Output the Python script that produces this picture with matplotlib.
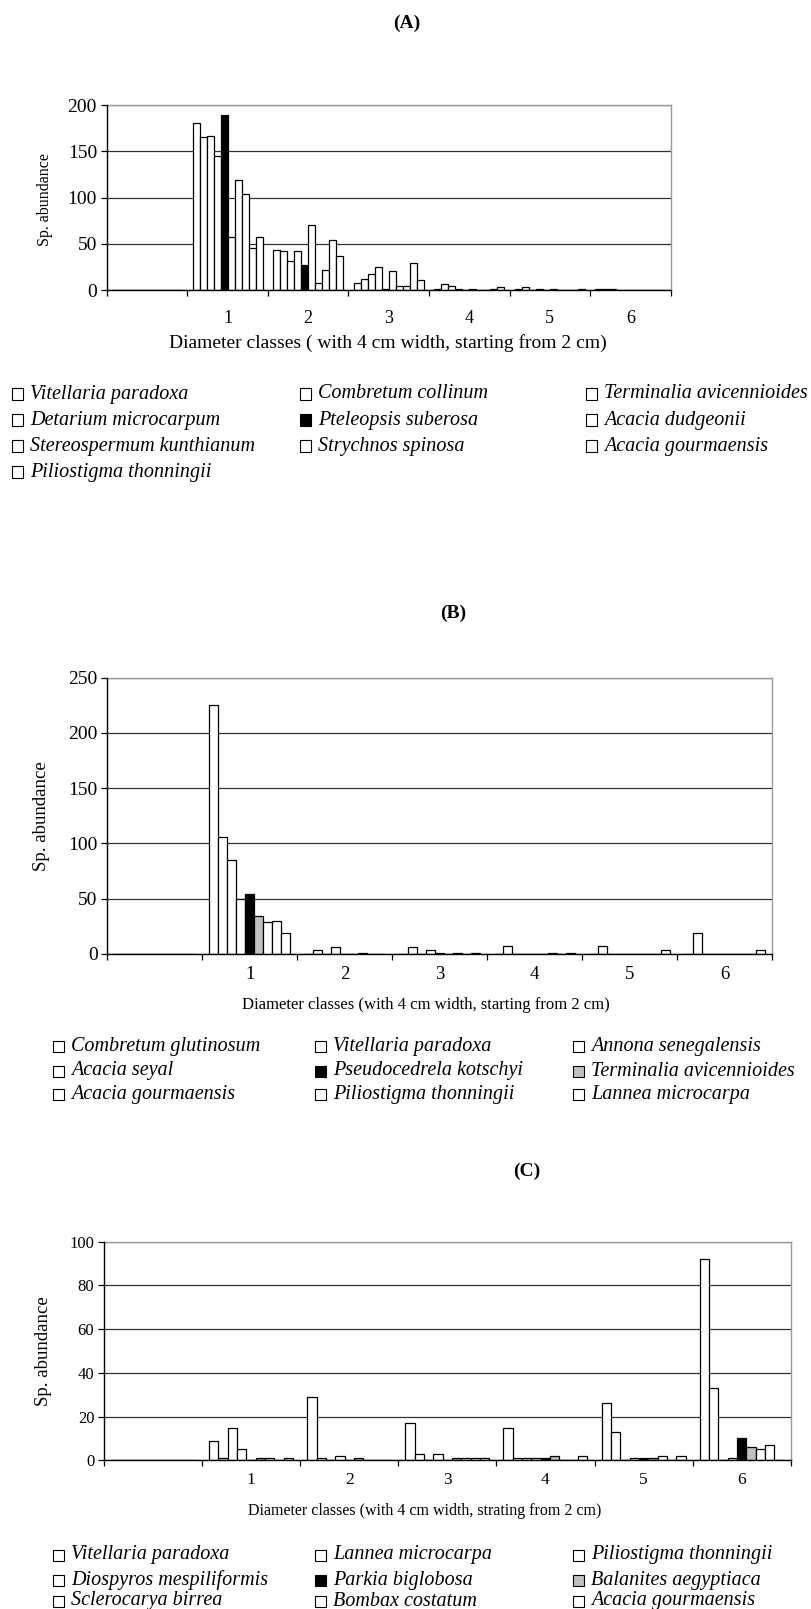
#!/usr/bin/env python3
"""Diameter class distributions of the dominant species, panels A-C"""

import numpy as np
import matplotlib
matplotlib.use('Agg')
import matplotlib.pyplot as plt
from matplotlib.patches import Rectangle

plt.rcParams['font.family'] = ['Liberation Serif', 'DejaVu Serif']

W, H = 811, 1609

# first class is an empty slot, as in the original sheet
class_labels = ['', '1', '2', '3', '4', '5', '6']

# ---- panel A
species_a = ['Vitellaria paradoxa', 'Combretum collinum', 'Terminalia avicennioides',
             'Detarium microcarpum', 'Pteleopsis suberosa', 'Acacia dudgeonii',
             'Stereospermum kunthianum', 'Strychnos spinosa', 'Acacia gourmaensis',
             'Piliostigma thonningii']
values_a = [
    [0, 181, 44, 8, 1, 1, 1],
    [0, 165, 42, 12, 7, 4, 1],
    [0, 167, 32, 18, 5, 0, 1],
    [0, 145, 42, 25, 1, 1, 0],
    [0, 189, 27, 1, 0, 0, 0],
    [0, 57, 71, 21, 1, 1, 0],
    [0, 119, 8, 5, 0, 0, 0],
    [0, 104, 22, 5, 0, 0, 0],
    [0, 46, 54, 29, 1, 0, 0],
    [0, 58, 37, 11, 4, 1, 0],
]
fills_a = ['white'] * 4 + ['black'] + ['white'] * 5

# ---- panel B
species_b = ['Combretum glutinosum', 'Vitellaria paradoxa', 'Annona senegalensis',
             'Acacia seyal', 'Pseudocedrela kotschyi', 'Terminalia avicennioides',
             'Acacia gourmaensis', 'Piliostigma thonningii', 'Lannea microcarpa']
values_b = [
    [0, 225, 0, 0, 0, 0, 0],
    [0, 106, 3, 6, 7, 7, 19],
    [0, 85, 0, 0, 0, 0, 0],
    [0, 50, 6, 3, 0, 0, 0],
    [0, 54, 0, 1, 0, 0, 0],
    [0, 34, 0, 0, 0, 0, 0],
    [0, 29, 1, 1, 1, 0, 0],
    [0, 30, 0, 0, 0, 0, 0],
    [0, 19, 0, 1, 1, 3, 3],
]
fills_b = ['white'] * 4 + ['black', '#c0c0c0'] + ['white'] * 3

# ---- panel C
species_c = ['Vitellaria paradoxa', 'Lannea microcarpa', 'Piliostigma thonningii',
             'Diospyros mespiliformis', 'Parkia biglobosa', 'Balanites aegyptiaca',
             'Sclerocarya birrea', 'Bombax costatum', 'Acacia gourmaensis']
values_c = [
    [0, 9, 29, 17, 15, 26, 92],
    [0, 1, 1, 3, 1, 13, 33],
    [0, 15, 0, 0, 1, 0, 0],
    [0, 5, 2, 3, 1, 1, 1],
    [0, 0, 0, 0, 1, 1, 10],
    [0, 1, 1, 1, 2, 1, 6],
    [0, 1, 0, 1, 0, 2, 5],
    [0, 0, 0, 1, 0, 0, 7],
    [0, 1, 0, 1, 2, 2, 0],
]
fills_c = ['white'] * 4 + ['black', '#c0c0c0'] + ['white'] * 3


def px_axes(fig, left, top, right, bottom):
    """Axes placed by pixel edges of the figure."""
    return fig.add_axes([left / W, 1 - bottom / H, (right - left) / W, (bottom - top) / H])


def ftext(fig, x, y, s, **kw):
    fig.text(x / W, 1 - y / H, s, **kw)


def draw_panel(fig, box, values, fills, ymax, ystep, group, xsize, ysize, xpad):
    ax = px_axes(fig, *box)
    n = len(values)
    x = np.arange(len(class_labels))
    w = group / n
    for i, (vals, fill) in enumerate(zip(values, fills)):
        ax.bar(x - group / 2 + w * (i + 0.5), vals, width=w, color=fill,
               edgecolor='black', linewidth=0.9, zorder=3)

    ax.set_xlim(-0.5, len(class_labels) - 0.5)
    ax.set_ylim(0, ymax)
    ax.set_yticks(np.arange(0, ymax + 1, ystep))
    ax.set_xticks(np.arange(-0.5, len(class_labels), 1))
    ax.set_xticklabels([])
    ax.set_xticks(x, minor=True)
    ax.set_xticklabels(class_labels, minor=True)
    ax.tick_params(axis='x', which='major', direction='out', length=4, width=0.9)
    ax.tick_params(axis='x', which='minor', length=0, pad=xpad, labelsize=xsize)
    ax.tick_params(axis='y', direction='out', length=4, width=0.9, pad=3, labelsize=ysize)

    ax.yaxis.grid(True, color='#333333', linewidth=0.9, zorder=1)
    ax.set_axisbelow(True)
    for side in ('top', 'right'):
        ax.spines[side].set_color('#9a9a9a')
        ax.spines[side].set_linewidth(1.0)
    for side in ('left', 'bottom'):
        ax.spines[side].set_linewidth(1.0)
        ax.spines[side].set_zorder(5)
    return ax


def draw_legend(fig, species, fills, cols_x, rows_y, size):
    ncol = len(cols_x)
    for k, (name, fill) in enumerate(zip(species, fills)):
        cx = cols_x[k % ncol]
        ry = rows_y[k // ncol]
        fig.patches.append(Rectangle((cx / W, 1 - (ry + 5.5) / H), 11 / W, 11 / H,
                                     transform=fig.transFigure, facecolor=fill,
                                     edgecolor='black', linewidth=0.8))
        ftext(fig, cx + 18, ry, name, fontsize=size, style='italic', va='center')


def main():
    fig = plt.figure(figsize=(W / 100, H / 100), dpi=100)

    # (A)
    ftext(fig, 407, 23, '(A)', fontsize=14, weight='bold', ha='center', va='center')
    draw_panel(fig, (106.7, 105, 670.7, 290.3), values_a, fills_a, 200, 50, 0.87, 13, 14, 14.5)
    ftext(fig, 45, 200, 'Sp. abundance', fontsize=11.5, rotation=90, ha='center', va='center')
    ftext(fig, 388, 343, 'Diameter classes ( with 4 cm width, starting from 2 cm)',
          fontsize=14, ha='center', va='center')
    draw_legend(fig, species_a, fills_a, (12, 300, 586), (394, 420, 446, 472), 14.5)

    # (B)
    ftext(fig, 453, 613, '(B)', fontsize=14, weight='bold', ha='center', va='center')
    draw_panel(fig, (107.3, 677.7, 772.3, 953.7), values_b, fills_b, 250, 50, 0.853, 13.5, 14, 9)
    ftext(fig, 42, 816, 'Sp. abundance', fontsize=13.5, rotation=90, ha='center', va='center')
    ftext(fig, 426, 1005, 'Diameter classes (with 4 cm width, starting from 2 cm)',
          fontsize=12, ha='center', va='center')
    draw_legend(fig, species_b, fills_b, (53, 315, 573), (1046, 1071, 1094), 14.5)

    # (C)
    ftext(fig, 527, 1171, '(C)', fontsize=14, weight='bold', ha='center', va='center')
    draw_panel(fig, (104, 1241.7, 790.7, 1460.3), values_c, fills_c, 100, 20, 0.856, 12.5, 12, 8.5)
    ftext(fig, 43, 1351, 'Sp. abundance', fontsize=13.5, rotation=90, ha='center', va='center')
    ftext(fig, 425, 1511, 'Diameter classes (with 4 cm width, strating from 2 cm)',
          fontsize=11.5, ha='center', va='center')
    draw_legend(fig, species_c, fills_c, (53, 315, 573), (1555, 1580, 1601), 14.5)

    fig.savefig('out.png', dpi=100)


if __name__ == '__main__':
    main()
